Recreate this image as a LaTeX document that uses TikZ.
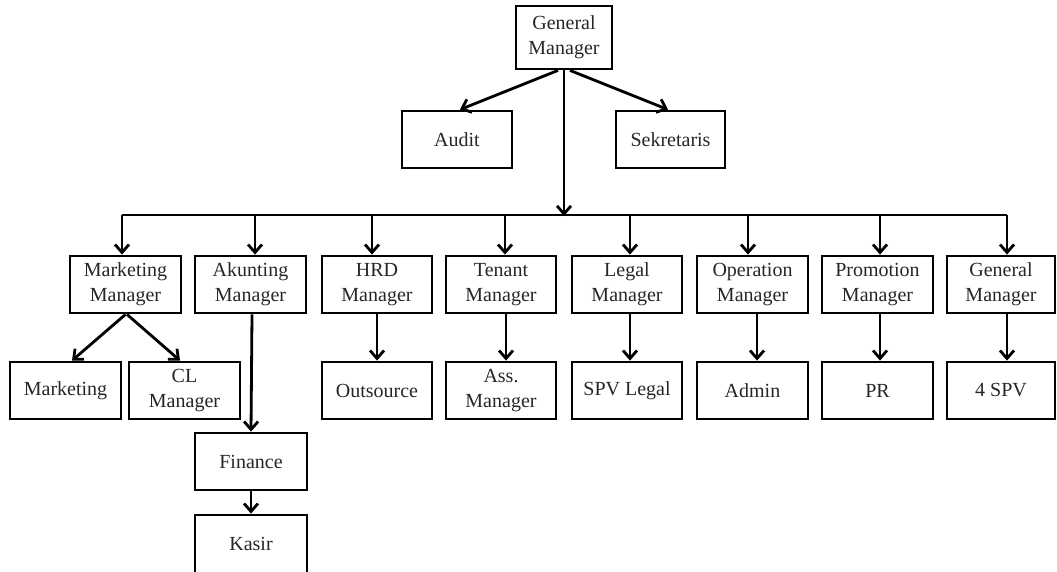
\documentclass[tikz,border=0pt]{standalone}
\usepackage{fontspec}
\setmainfont{Liberation Serif}
\usetikzlibrary{arrows.meta}
\tikzset{
  box/.style={draw, line width=2.8pt, inner sep=0pt, align=center,
    font=\fontsize{20pt}{25pt}\selectfont, text=black!85},
  arr/.style={line width=2.8pt, -{Straight Barb[length=8pt,width=14pt,line width=2.8pt]}},
  ln/.style={line width=2.8pt}
}
\begin{document}
\begin{tikzpicture}[x=1pt,y=-1pt]
\useasboundingbox (0,0) rectangle (1057,571);
% top
\node[box, minimum width=96pt, minimum height=63pt] (gm) at (564,37.5) {General\\Manager};
\node[box, minimum width=110pt, minimum height=57pt] (audit) at (457,139.5) {Audit};
\node[box, minimum width=109pt, minimum height=57pt] (sek) at (670.5,139.5) {Sekretaris};
% row 2
\tikzset{r2/.style={box, minimum width=111pt, minimum height=57pt}}
\node[r2] (mm) at (125.5,284.5) {Marketing\\Manager};
\node[r2] (am) at (250.5,284.5) {Akunting\\Manager};
\node[r2, minimum width=110pt] (hrd) at (377,284.5) {HRD\\Manager};
\node[r2, minimum width=110pt] (ten) at (501,284.5) {Tenant\\Manager};
\node[r2, minimum width=110pt] (leg) at (627,284.5) {Legal\\Manager};
\node[r2] (op) at (752.5,284.5) {Operation\\Manager};
\node[r2] (pro) at (877.5,284.5) {Promotion\\Manager};
\node[r2, minimum width=108pt] (gm2) at (1001,284.5) {General\\Manager};
% row 3
\node[r2] (mk) at (65.5,390.5) {Marketing};
\node[r2] (cl) at (184.5,390.5) {CL\\Manager};
\node[r2, minimum width=110pt] (out) at (377,390.5) {Outsource};
\node[r2, minimum width=110pt] (ass) at (501,390.5) {Ass.\\Manager};
\node[r2, minimum width=110pt] (spv) at (627,390.5) {SPV Legal};
\node[r2] (adm) at (752.5,390.5) {Admin};
\node[r2] (pr) at (877.5,390.5) {PR};
\node[r2, minimum width=108pt] (sp4) at (1001,390.5) {4 SPV};
% akunting chain
\node[box, minimum width=112pt, minimum height=57pt] (fin) at (251,461.5) {Finance};
\node[box, minimum width=112pt, minimum height=65pt, text depth=0pt] (kas) at (251,547.5) {\raisebox{8pt}{Kasir}};
% connectors top
\coordinate (bus) at (564,215);
\draw[arr] ([xshift=-6pt]gm.south) -- ([xshift=3pt]audit.north);
\draw[arr] ([xshift=6pt]gm.south) -- ([xshift=-2.5pt]sek.north);
\draw[arr] (gm.south) -- ([yshift=-1pt]bus);
\draw[ln] ([xshift=-3.5pt]mm.north |- bus) -- ([xshift=6pt]gm2.north |- bus);
\draw[arr] ([xshift=-3.5pt]mm.north |- bus) -- ([xshift=-3.5pt]mm.north);
\draw[arr] ([xshift=4.5pt]am.north |- bus) -- ([xshift=4.5pt]am.north);
\draw[arr] ([xshift=-5pt]hrd.north |- bus) -- ([xshift=-5pt]hrd.north);
\draw[arr] ([xshift=4pt]ten.north |- bus) -- ([xshift=4pt]ten.north);
\draw[arr] ([xshift=3pt]leg.north |- bus) -- ([xshift=3pt]leg.north);
\draw[arr] ([xshift=-4.5pt]op.north |- bus) -- ([xshift=-4.5pt]op.north);
\draw[arr] ([xshift=2.5pt]pro.north |- bus) -- ([xshift=2.5pt]pro.north);
\draw[arr] ([xshift=6pt]gm2.north |- bus) -- ([xshift=6pt]gm2.north);
% row 2 to row 3
\draw[arr] (mm.south) -- ([xshift=6.5pt]mk.north);
\draw[arr] ([xshift=1.5pt]mm.south) -- ([xshift=-4.5pt]cl.north);
\draw[arr] ([xshift=1.5pt]am.south) -- (fin.north);
\draw[arr] (fin.south) -- (kas.north);
\draw[arr] (hrd.south) -- (out.north);
\draw[arr] ([xshift=5pt]ten.south) -- ([xshift=5pt]ass.north);
\draw[arr] ([xshift=3pt]leg.south) -- ([xshift=3pt]spv.north);
\draw[arr] ([xshift=4.5pt]op.south) -- ([xshift=4.5pt]adm.north);
\draw[arr] ([xshift=2.5pt]pro.south) -- ([xshift=2.5pt]pr.north);
\draw[arr] ([xshift=6pt]gm2.south) -- ([xshift=6pt]sp4.north);
\end{tikzpicture}
\end{document}
